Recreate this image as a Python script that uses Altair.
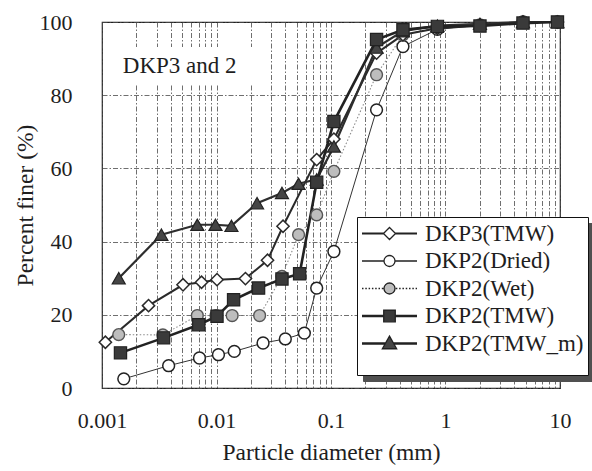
import altair as alt
import pandas as pd

# ---------------- data ----------------
series_names = ["DKP3(TMW)", "DKP2(Dried)", "DKP2(Wet)", "DKP2(TMW)", "DKP2(TMW_m)"]

dkp3_tmw_d = [0.00107, 0.00255, 0.0051, 0.0074, 0.0101, 0.0179, 0.0279, 0.0381,
              0.075, 0.106, 0.25, 0.425, 0.85, 2.0, 4.75, 9.5]
dkp3_tmw_p = [12.5, 22.5, 28.2, 28.9, 29.6, 29.9, 34.9, 44.2,
              62.4, 68.0, 91.5, 96.5, 98.3, 99.2, 100.0, 100.0]

dkp2_dried_d = [0.00155, 0.00382, 0.0071, 0.0104, 0.0143, 0.0255, 0.0399, 0.0585,
                0.075, 0.106, 0.25, 0.425, 0.85, 2.0, 4.75, 9.5]
dkp2_dried_p = [2.5, 6.1, 8.2, 9.1, 10.0, 12.3, 13.4, 15.0,
                27.3, 37.3, 76.0, 93.3, 98.0, 99.0, 100.0, 100.0]

dkp2_wet_d = [0.0014, 0.0034, 0.0068, 0.0099, 0.0137, 0.0238, 0.0373, 0.0521,
              0.075, 0.106, 0.25, 0.425, 0.85, 2.0, 4.75, 9.5]
dkp2_wet_p = [14.6, 14.5, 19.8, 19.8, 19.8, 19.8, 30.5, 41.9,
              47.3, 59.2, 85.6, 96.5, 98.5, 99.2, 100.0, 100.0]

dkp2_tmw_d = [0.00145, 0.00345, 0.0070, 0.0101, 0.0141, 0.0233, 0.0373, 0.0532,
              0.075, 0.106, 0.25, 0.425, 0.85, 2.0, 4.75, 9.5]
dkp2_tmw_p = [9.6, 13.7, 17.3, 19.6, 24.1, 27.3, 29.8, 31.2,
              56.2, 72.8, 95.2, 97.9, 98.8, 98.9, 99.7, 100.0]

dkp2_tmwm_d = [0.0014, 0.0033, 0.0068, 0.0098, 0.0135, 0.0226, 0.0373, 0.0521,
               0.075, 0.106, 0.25, 0.425, 0.85, 2.0, 4.75, 9.5]
dkp2_tmwm_p = [30.0, 41.9, 44.6, 44.6, 44.3, 50.5, 53.3, 55.8,
               57.0, 66.0, 93.0, 97.5, 99.0, 99.5, 100.0, 100.0]

x_label_values = [0.001, 0.01, 0.1, 1, 10]
y_label_values = [0, 20, 40, 60, 80, 100]

annotation_text = "DKP3 and 2"

# ---------------- tables built from the arrays ----------------
all_d = [dkp3_tmw_d, dkp2_dried_d, dkp2_wet_d, dkp2_tmw_d, dkp2_tmwm_d]
all_p = [dkp3_tmw_p, dkp2_dried_p, dkp2_wet_p, dkp2_tmw_p, dkp2_tmwm_p]
rows = []
for name, ds, ps in zip(series_names, all_d, all_p):
    for d, p in zip(ds, ps):
        rows.append({"series": name, "d": d, "p": p})
df = pd.DataFrame(rows)

grid_x = [m * 10.0 ** k for k in range(-3, 1) for m in range(1, 10)] + [10.0]
grid_y = list(range(0, 101, 10))

FONT = "Liberation Serif"
INK = "#1e1e1e"
W, H = 458, 366

x_enc = alt.X(
    "d:Q",
    scale=alt.Scale(type="log", domain=[0.001, 10], nice=False),
    axis=alt.Axis(
        values=grid_x, format="~g", labelFlush=False, labelOverlap=False,
        labelExpr="abs(log(datum.value)/LN10 - round(log(datum.value)/LN10)) < 1e-6 ? datum.label : ''",
        title="Particle diameter (mm)", labelPadding=22, titlePadding=9,
    ),
)
y_enc = alt.Y(
    "p:Q",
    scale=alt.Scale(domain=[0, 100], nice=False),
    axis=alt.Axis(
        values=grid_y, labelFlush=False, labelOverlap=False,
        labelExpr="datum.value % 20 == 0 ? datum.label : ''",
        title="Percent finer (%)", labelPadding=30, titlePadding=2,
    ),
)

line_style = {
    "DKP3(TMW)": dict(stroke="#2a2a2a", strokeWidth=2.0),
    "DKP2(Dried)": dict(stroke="#333333", strokeWidth=1.0),
    "DKP2(Wet)": dict(stroke="#8a8a8a", strokeWidth=1.1, strokeDash=[1.5, 2]),
    "DKP2(TMW)": dict(stroke="#222222", strokeWidth=2.6),
    "DKP2(TMW_m)": dict(stroke="#2e2e2e", strokeWidth=2.2),
}
point_style = {
    "DKP3(TMW)": dict(shape="diamond", fill="white", stroke="#2a2a2a", strokeWidth=1.5, size=150),
    "DKP2(Dried)": dict(shape="circle", fill="white", stroke="#222222", strokeWidth=1.5, size=140),
    "DKP2(Wet)": dict(shape="circle", fill="#bdbdbd", stroke="#555555", strokeWidth=1.4, size=140),
    "DKP2(TMW)": dict(shape="square", fill="#3a3a3a", stroke="#222222", strokeWidth=1.2, size=150),
    "DKP2(TMW_m)": dict(shape="triangle-up", fill="#454545", stroke="#222222", strokeWidth=1.2, size=170),
}
draw_order = ["DKP2(Dried)", "DKP2(Wet)", "DKP3(TMW)", "DKP2(TMW_m)", "DKP2(TMW)"]

base = alt.Chart(df)
line_layers = [
    base.transform_filter(alt.datum.series == s).mark_line(**line_style[s]).encode(x=x_enc, y=y_enc)
    for s in draw_order
]
point_layers = [
    base.transform_filter(alt.datum.series == s)
    .mark_point(filled=True, opacity=1, **point_style[s])
    .encode(x=x_enc, y=y_enc)
    for s in draw_order
]

# annotation "DKP3 and 2" with white backing
annot_df = pd.DataFrame({"d": [0.00152], "p": [88.0], "label": [annotation_text]})
bg_df = pd.DataFrame({"d": [0.00113], "d2": [0.0241], "p": [82.8], "p2": [93.2]})
bg = alt.Chart(bg_df).mark_rect(fill="white").encode(
    x=alt.X("d:Q", scale=alt.Scale(type="log", domain=[0.001, 10], nice=False)),
    x2="d2", y=alt.Y("p:Q"), y2="p2")
annot = alt.Chart(annot_df).mark_text(
    align="left", baseline="middle", font=FONT, fontSize=23, color=INK
).encode(x="d:Q", y="p:Q", text="label:N")

# ---------------- legend (library legend with line+marker symbols) ----------------
def seg(a, y):
    return f"M-1,{y}H{-a}M{a},{y}H1"

def thick(a, t):
    return seg(a, -t) + seg(a, t)

def dotted(a):
    out = ""
    x = -1.0
    while x < -a - 0.02:
        out += f"M{x:.3f},0H{min(x + 0.055, -a):.3f}"
        x += 0.12
    x = a + 0.03
    while x < 1.0:
        out += f"M{x:.3f},0H{min(x + 0.055, 1.0):.3f}"
        x += 0.12
    return out

def circle(r):
    return f"M{r},0A{r},{r},0,1,1,{-r},0A{r},{r},0,1,1,{r},0Z"

legend_paths = [
    thick(0.22, 0.012) + "M0,-0.22L0.22,0L0,0.22L-0.22,0Z",
    seg(0.2, 0) + circle(0.2),
    dotted(0.2) + circle(0.2),
    thick(0.21, 0.022) + "M-0.21,-0.21H0.21V0.21H-0.21Z",
    thick(0.15, 0.018) + "M0,-0.27L0.26,0.19L-0.26,0.19Z",
]
legend_fills = ["white", "white", "#bdbdbd", "#3a3a3a", "#454545"]

def legend_kw(dx, dy, shadow=False):
    kw = dict(
        orient="none", legendX=255 + dx, legendY=195 + dy,
        title=" ", titleOrient="bottom", titleFontSize=12, titlePadding=4,
        padding=4, labelFont=FONT, labelFontSize=23, labelOffset=7, labelLimit=400,
        symbolSize=3025, symbolOffset=0, clipHeight=25, rowPadding=2.5,
        symbolStrokeWidth=1.3, symbolStrokeColor="#222222",
    )
    if shadow:
        # same box size as the main legend, drawn behind it as a drop shadow (no texts)
        kw.update(fillColor="#505050", strokeColor="#505050", labelExpr="''",
                  labelOffset=0, symbolSize=221 ** 2, symbolOpacity=0)
    else:
        kw.update(fillColor="white", strokeColor="#111111", labelColor=INK)
    return kw

empty = alt.Chart(df).transform_filter("datum.p > 1000")

def legend_layer(shadow):
    kw = legend_kw(6, 6, True) if shadow else legend_kw(0, 0, False)
    return empty.mark_point(filled=True, opacity=1, stroke="#222222", strokeWidth=1.3).encode(
        x=alt.X("d:Q"), y=alt.Y("p:Q"),
        color=alt.Color("series:N", scale=alt.Scale(domain=series_names, range=legend_fills),
                        legend=alt.Legend(**kw)),
        shape=alt.Shape("series:N", scale=alt.Scale(domain=series_names, range=legend_paths),
                        legend=alt.Legend(**kw)),
    )

chart = alt.layer(
    bg, *line_layers, *point_layers, annot, legend_layer(True), legend_layer(False)
).resolve_scale(color="independent", shape="independent").properties(
    width=W, height=H,
    autosize=alt.AutoSizeParams(type="none"),
    padding={"left": 102, "top": 22, "right": 32, "bottom": 83},
    background="white",
).configure_view(
    stroke="#222222", strokeWidth=1.2
).configure_axis(
    domain=False, ticks=False, grid=True,
    gridColor="#4a4a4a", gridWidth=0.8, gridDash=[5, 2, 1.5, 2],
    labelFont=FONT, labelFontSize=22, labelColor=INK,
    titleFont=FONT, titleFontSize=23.5, titleFontWeight="normal", titleColor=INK,
)

chart.save("out.html", embed_options={"renderer": "svg", "actions": False})
